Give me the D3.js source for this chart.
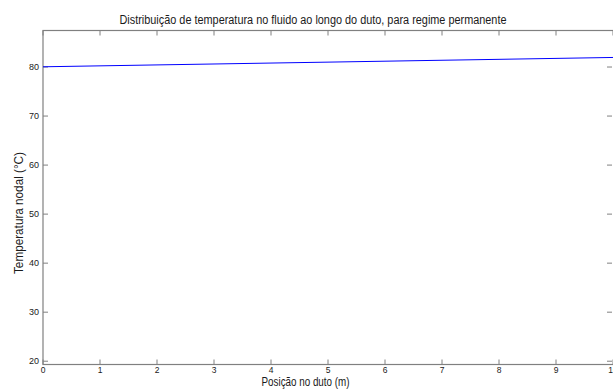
<!DOCTYPE html>
<html lang="pt">
<head>
<meta charset="UTF-8">
<title>Distribuição de temperatura</title>
<script src="https://cdnjs.cloudflare.com/ajax/libs/d3/7.8.5/d3.min.js"></script>
<style>
  body { margin: 0; background: #fff; font-family: "Liberation Sans", Arial, sans-serif; }
  svg text { fill: #1a1a1a; }
</style>
</head>
<body>
<div id="chart"></div>
<script>
// posição (m) e temperatura nodal (°C)
const posicao = [0, 1, 2, 3, 4, 5, 6, 7, 8, 9, 10];
const temperatura = [80.05, 80.24, 80.43, 80.62, 80.81, 81.0, 81.19, 81.38, 81.57, 81.76, 81.95];
const xTicks = [0, 1, 2, 3, 4, 5, 6, 7, 8, 9, 10];
const yTicks = [20, 30, 40, 50, 60, 70, 80];

const width = 613, height = 390;
const mLeft = 43, mRight = 613, mTop = 30.5, mBottom = 364.5;
const axisColor = "#808080";

const svg = d3.select("#chart").append("svg")
  .attr("width", width).attr("height", height);

const x = d3.scaleLinear().domain([0, 10]).range([mLeft, mRight]);
const y = d3.scaleLinear().domain([19.33, 87.45]).range([mBottom, mTop]);

// eixos (caixa)
svg.append("rect")
  .attr("x", mLeft).attr("y", mTop)
  .attr("width", mRight - mLeft + 2).attr("height", mBottom - mTop)
  .attr("fill", "none").attr("stroke", axisColor).attr("stroke-width", 1.2);

const tickLen = 5;
// ticks em x (embaixo e em cima, para dentro)
xTicks.forEach(t => {
  svg.append("line").attr("x1", x(t)).attr("x2", x(t))
    .attr("y1", mBottom).attr("y2", mBottom - tickLen)
    .attr("stroke", axisColor);
  svg.append("line").attr("x1", x(t)).attr("x2", x(t))
    .attr("y1", mTop).attr("y2", mTop + tickLen)
    .attr("stroke", axisColor);
  svg.append("text").attr("x", x(t)).attr("y", mBottom + 8.5)
    .attr("text-anchor", "middle").attr("font-size", 8.5).text(t);
});

// ticks em y
yTicks.forEach(t => {
  svg.append("line").attr("x1", mLeft).attr("x2", mLeft + tickLen)
    .attr("y1", y(t)).attr("y2", y(t)).attr("stroke", axisColor);
  svg.append("line").attr("x1", mRight - 1).attr("x2", mRight - 1 - tickLen)
    .attr("y1", y(t)).attr("y2", y(t)).attr("stroke", axisColor);
  svg.append("text").attr("x", mLeft - 4).attr("y", y(t) + 3)
    .attr("text-anchor", "end").attr("font-size", 9).text(t);
});

// linha
const line = d3.line().x((d, i) => x(posicao[i])).y(d => y(d));
svg.append("path").datum(temperatura)
  .attr("d", line)
  .attr("fill", "none").attr("stroke", "#0000ff").attr("stroke-width", 1);

// textos
svg.append("text").attr("x", 313).attr("y", 23.5)
  .attr("text-anchor", "middle").attr("font-size", 12.5)
  .attr("textLength", 387).attr("lengthAdjust", "spacingAndGlyphs")
  .text("Distribuição de temperatura no fluido ao longo do duto, para regime permanente");

svg.append("text").attr("x", 305.5).attr("y", 385.5)
  .attr("text-anchor", "middle").attr("font-size", 12)
  .attr("textLength", 88).attr("lengthAdjust", "spacingAndGlyphs")
  .text("Posição no duto (m)");

svg.append("text")
  .attr("transform", "translate(23,213) rotate(-90)")
  .attr("text-anchor", "middle").attr("font-size", 12.5)
  .attr("textLength", 122).attr("lengthAdjust", "spacingAndGlyphs")
  .text("Temperatura nodal (°C)");
</script>
</body>
</html>
